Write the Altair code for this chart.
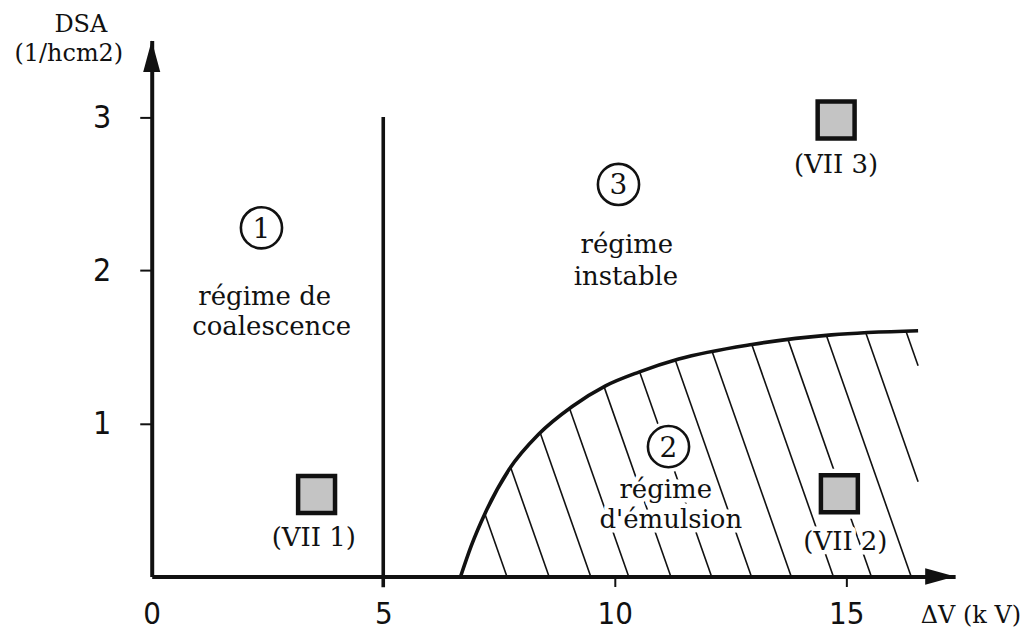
import altair as alt
import numpy as np
import pandas as pd

INK = "#111111"
SERIF = "DejaVu Serif"
NARROW = "Liberation Sans Narrow, DejaVu Sans Condensed, Roboto Condensed, Liberation Sans, sans-serif"

# ---- axes extents / ticks -------------------------------------------------
X_MAX = 17.35
Y_MAX = 3.5
x_tick_values = [0, 5, 10, 15]
y_tick_values = [1, 2, 3]

# ---- vertical boundary between regime 1 and regimes 2/3 ----------------------
boundary_x = [5.0]
boundary_bottom = [-0.07]
boundary_top = [3.0]

# ---- upper boundary of the emulsion regime -------------------------------------
curve_x = [6.67, 6.9, 7.21, 7.72, 8.36, 9.08, 9.80, 10.52, 11.38, 12.96, 14.68, 16.55]
curve_y = [0.0, 0.2, 0.42, 0.70, 0.93, 1.11, 1.245, 1.335, 1.42, 1.515, 1.578, 1.605]

# ---- hatching: x-intercepts of the hatch lines on the axis ----------------------
hatch_base = [7.67, 8.58, 9.48, 10.30, 11.21, 12.09, 12.95, 13.81, 14.72,
              15.54, 16.40, 17.27, 18.15]
hatch_slope = 0.86  # data units of y per unit of x (lines fall to the right)

# ---- region markers ---------------------------------------------------------------
region_nums = ["1", "3", "2"]
region_num_x = [2.37, 10.08, 11.16]
region_num_y = [2.277, 2.56, 0.848]

region_text = ["régime de", "coalescence", "régime", "instable", "régime", "d'émulsion"]
region_text_x = [2.44, 2.59, 10.26, 10.24, 11.10, 11.21]
region_text_y = [1.826, 1.631, 2.166, 1.957, 0.567, 0.372]

# ---- experiments -----------------------------------------------------------------
exp_names = ["(VII 1)", "(VII 2)", "(VII 3)"]
exp_x = [3.56, 14.85, 14.78]
exp_y = [0.535, 0.54, 2.981]
exp_label_x = [3.50, 14.98, 14.78]
exp_label_y = [0.254, 0.228, 2.688]

# ---- axis titles -----------------------------------------------------------------
y_title = ["DSA", "(1/hcm2)"]
y_title_x = [-1.53, -1.79]
y_title_y = [3.603, 3.41]
x_title = ["ΔV (k V)"]
x_title_x = [17.69]
x_title_y = [-0.255]


# ---- monotone (d3 monotoneX) evaluation, used only to end hatch lines on the curve --
def monotone_tangents(xs, ys):
    n = len(xs)
    t = np.zeros(n)
    for i in range(1, n - 1):
        h0 = xs[i] - xs[i - 1]
        h1 = xs[i + 1] - xs[i]
        s0 = (ys[i] - ys[i - 1]) / h0
        s1 = (ys[i + 1] - ys[i]) / h1
        p = (s0 * h1 + s1 * h0) / (h0 + h1)
        t[i] = (np.sign(s0) + np.sign(s1)) * min(abs(s0), abs(s1), 0.5 * abs(p))
    t[0] = (3 * (ys[1] - ys[0]) / (xs[1] - xs[0]) - t[1]) / 2
    t[-1] = (3 * (ys[-1] - ys[-2]) / (xs[-1] - xs[-2]) - t[-2]) / 2
    return t


cx = np.array(curve_x)
cy = np.array(curve_y)
ct = monotone_tangents(cx, cy)


def curve_at(x):
    i = int(np.clip(np.searchsorted(cx, x) - 1, 0, len(cx) - 2))
    h = cx[i + 1] - cx[i]
    u = (x - cx[i]) / h
    h00 = 2 * u**3 - 3 * u**2 + 1
    h10 = u**3 - 2 * u**2 + u
    h01 = -2 * u**3 + 3 * u**2
    h11 = u**3 - u**2
    return h00 * cy[i] + h10 * h * ct[i] + h01 * cy[i + 1] + h11 * h * ct[i + 1]


x_right = curve_x[-1]
rows = []
for b in hatch_base:
    def g(x):
        return curve_at(x) - (b - x) * hatch_slope
    hi = min(b, x_right)
    if g(hi) <= 0:
        continue
    lo = curve_x[0]
    for _ in range(60):
        mid = 0.5 * (lo + hi)
        if g(mid) > 0:
            hi = mid
        else:
            lo = mid
    xt = 0.5 * (lo + hi)
    yt = (b - xt) * hatch_slope
    if b <= x_right:
        xb, yb = b, 0.0
    else:
        xb, yb = x_right, (b - x_right) * hatch_slope
    rows.append({"x": xt, "y": yt, "x2": xb, "y2": yb})
hatch_df = pd.DataFrame(rows)

curve_df = pd.DataFrame({"x": curve_x, "y": curve_y})
boundary_df = pd.DataFrame({"x": boundary_x, "y": boundary_bottom, "y2": boundary_top})
xarrow_df = pd.DataFrame({"x": [X_MAX], "y": [0.0]})
yarrow_df = pd.DataFrame({"x": [0.0], "y": [Y_MAX]})
nums_df = pd.DataFrame({"x": region_num_x, "y": region_num_y, "label": region_nums})
rtext_df = pd.DataFrame({"x": region_text_x, "y": region_text_y, "label": region_text})
exp_df = pd.DataFrame({"x": exp_x, "y": exp_y, "label": exp_names})
explab_df = pd.DataFrame({"x": exp_label_x, "y": exp_label_y, "label": exp_names})
ytitle_df = pd.DataFrame({"x": y_title_x, "y": y_title_y, "label": y_title})
xtitle_df = pd.DataFrame({"x": x_title_x, "y": x_title_y, "label": x_title})

# ---- scales and axes --------------------------------------------------------------
x_scale = alt.Scale(domain=[0, X_MAX], nice=False, zero=False)
y_scale = alt.Scale(domain=[0, Y_MAX], nice=False, zero=False)
x_axis = alt.Axis(values=x_tick_values, title=None, grid=False,
                  domainColor=INK, domainWidth=4, tickColor=INK, tickWidth=2,
                  tickSize=10,
                  tickOpacity={"condition": {"test": "datum.value === 0", "value": 0}, "value": 1},
                  labelFont=NARROW, labelFontSize=31, labelColor=INK,
                  labelBaseline="alphabetic", labelPadding=37, labelFlush=False)
y_axis = alt.Axis(values=y_tick_values, title=None, grid=False,
                  domainColor=INK, domainWidth=4, tickColor=INK, tickWidth=2,
                  tickSize=12, labelFont=NARROW, labelFontSize=32, labelColor=INK,
                  labelPadding=29, labelFlush=False)


def ex(f="x"):
    return alt.X(f"{f}:Q", scale=x_scale, axis=x_axis)


def ey(f="y"):
    return alt.Y(f"{f}:Q", scale=y_scale, axis=y_axis)


def texts(df, size, halo=False, dy=0):
    props = dict(font=SERIF, fontSize=size, align="center", baseline="middle", dy=dy)
    if halo:
        m = alt.Chart(df).mark_text(fill="white", stroke="white", strokeWidth=9,
                                    strokeJoin="round", **props)
    else:
        m = alt.Chart(df).mark_text(fill=INK, **props)
    return m.encode(x=ex(), y=ey(), text="label:N")


hatch = alt.Chart(hatch_df).mark_rule(color=INK, strokeWidth=1.6).encode(
    x=ex(), y=ey(), x2="x2:Q", y2="y2:Q")
curve = alt.Chart(curve_df).mark_line(color=INK, strokeWidth=3.6,
                                      interpolate="monotone").encode(x=ex(), y=ey())
boundary = alt.Chart(boundary_df).mark_rule(color=INK, strokeWidth=3.6).encode(
    x=ex(), y=ey(), y2="y2:Q")
xarrow = alt.Chart(xarrow_df).mark_point(shape="M0,0L-2,-0.55L-2,0.55Z", size=900,
                                         filled=True, color=INK, opacity=1).encode(x=ex(), y=ey())
yarrow = alt.Chart(yarrow_df).mark_point(shape="M0,0L-0.57,2.1L0.57,2.1Z", size=900,
                                         filled=True, color=INK, opacity=1).encode(x=ex(), y=ey())

circle_halo = alt.Chart(nums_df).mark_circle(color="white", size=2600, opacity=1).encode(
    x=ex(), y=ey())
circles = alt.Chart(nums_df).mark_circle(fill="white", stroke=INK, strokeWidth=2.6,
                                         size=1700, opacity=1).encode(x=ex(), y=ey())
square_halo = alt.Chart(exp_df).mark_square(color="white", size=2500, opacity=1).encode(
    x=ex(), y=ey())
squares = alt.Chart(exp_df).mark_square(fill="#c4c4c4", stroke=INK, strokeWidth=4.5,
                                        size=1369, opacity=1).encode(x=ex(), y=ey())

chart = alt.layer(
    hatch, curve, boundary, xarrow, yarrow,
    texts(rtext_df, 26, halo=True), texts(explab_df, 26, halo=True),
    circle_halo, square_halo, circles, squares,
    texts(nums_df, 28, dy=2), texts(rtext_df, 26), texts(explab_df, 26),
    texts(ytitle_df, 24), texts(xtitle_df, 24),
).properties(
    width=805, height=537,
    autosize=alt.AutoSizeParams(type="none"),
    padding={"left": 144, "top": 32, "right": 70, "bottom": 55},
    background="white",
).configure_view(stroke=None)

chart.save("out.html", embed_options={"renderer": "svg", "actions": False})
